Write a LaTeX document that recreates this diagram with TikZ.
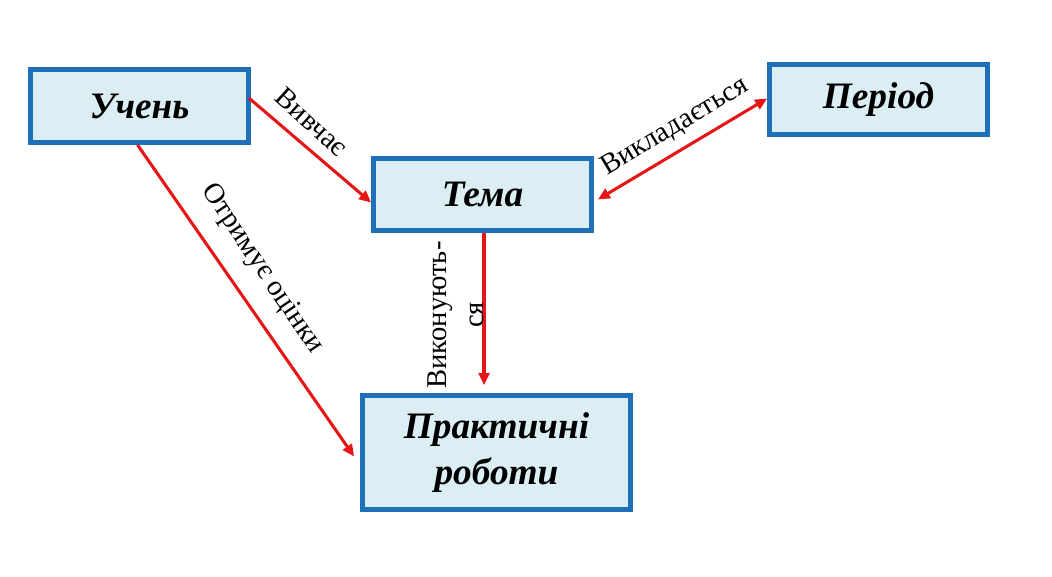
\documentclass[tikz,border=0pt]{standalone}
\usepackage{fontspec}
\setmainfont{Liberation Serif}
\usetikzlibrary{arrows.meta,calc}
\definecolor{boxblue}{RGB}{30,112,184}
\definecolor{boxfill}{RGB}{219,238,244}
\definecolor{arrred}{RGB}{230,22,22}
\begin{document}
\begin{tikzpicture}[x=0.75pt,y=-0.75pt,
  box/.style={draw=boxblue, line width=3.6pt, fill=boxfill, inner sep=0pt,
    font=\fontsize{28}{34.5}\selectfont\bfseries\itshape, align=center},
  link/.style={draw=arrred, line width=2.3pt, -{Triangle[length=9pt,width=8pt]}},
  duallink/.style={draw=arrred, line width=2.3pt, {Triangle[length=9pt,width=8pt]}-{Triangle[length=9pt,width=8pt]}},
  lbl/.style={font=\fontsize{21.5}{28}\selectfont, inner sep=0pt, align=center}]
\useasboundingbox (0,0) rectangle (1052,577);
\node[box, minimum width=163.5pt, minimum height=54.75pt] (u) at (139.5,106) {Учень};
\node[box, minimum width=163.5pt, minimum height=52.5pt] (p) at (878.5,99.5) {Період};
\node[box, minimum width=163.5pt, minimum height=54pt] (t) at (482.5,194.5) {Тема};
\node[box, minimum width=201pt, minimum height=85.5pt] (pr) at (496.5,452.5) {Практичні\\роботи};
\draw[link] ($(u.east)+(-2,-8)$) -- ($(t.west)+(0,8)$);
\draw[duallink] ($(t.east)+(4,5)$) -- ($(p.west)+(0,-1)$);
\draw[link] ($(u.south)+(-2,0)$) -- ($(pr.west)+(-6,4)$);
\draw[link] ($(t.south)+(1.5,0)$) -- ($(t.south |- pr.north)+(1.5,-8)$);
\node[lbl, rotate=-42] (l1) at (312,122) {Вивчає};
\node[lbl, rotate=31] (l2) at (675,127) {Викладається};
\node[lbl, rotate=-56] (l3) at (262,269) {Отримує оцінки};
\node[lbl, rotate=90] (l4) at (456,315) {Виконують-\\ся};
\end{tikzpicture}
\end{document}
